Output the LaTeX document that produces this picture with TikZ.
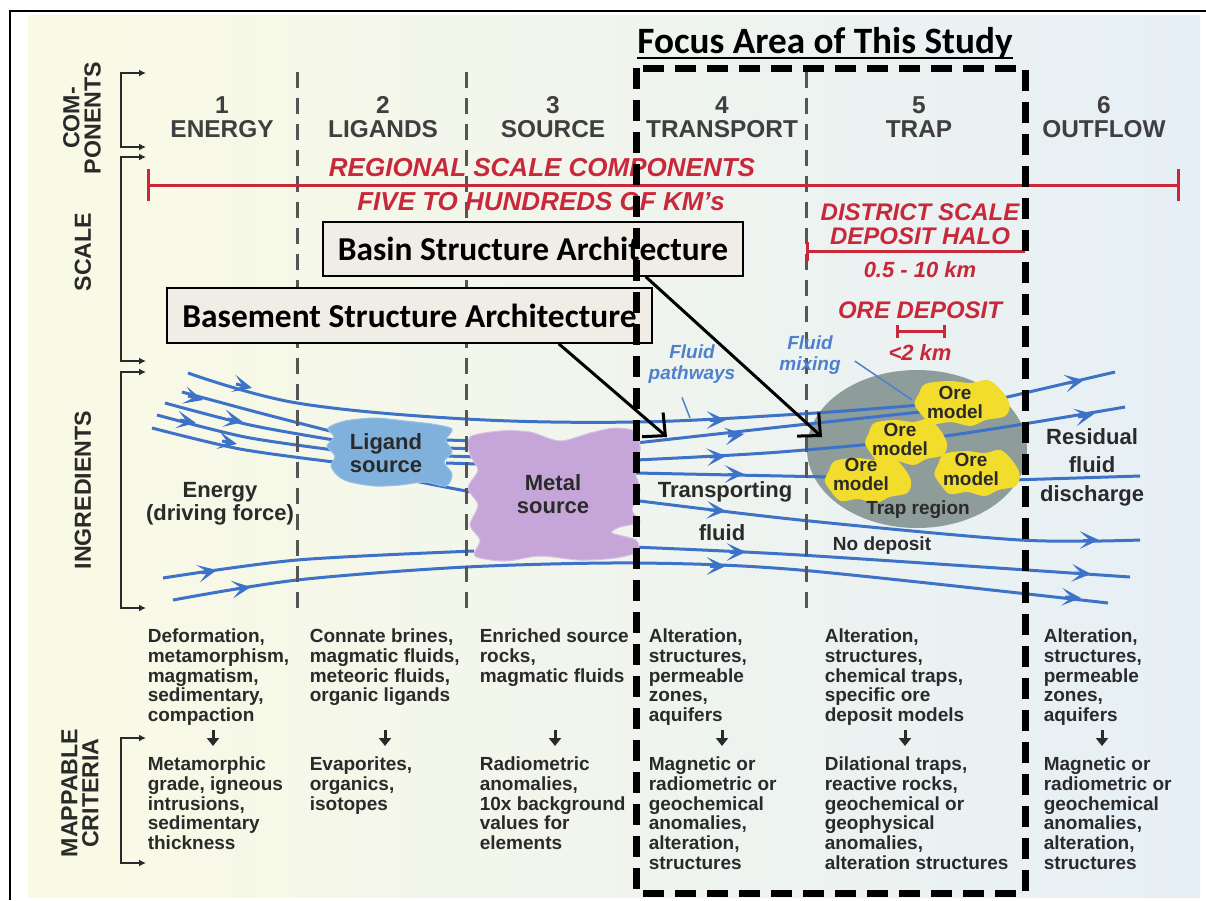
\documentclass[tikz,border=0pt]{standalone}
\usepackage{fontspec}
\setmainfont{Liberation Sans}
\newfontfamily\calibrifont{Carlito}
\usetikzlibrary{arrows.meta,positioning}

\definecolor{bgleft}{HTML}{FAFAE4}
\definecolor{bgright}{HTML}{E6EFF6}
\definecolor{txtgray}{HTML}{2A2A2A}
\definecolor{scalered}{HTML}{C8283A}
\definecolor{flowblue}{HTML}{3D72C9}
\definecolor{lblblue}{HTML}{4F80CB}
\definecolor{ligandblue}{HTML}{80B1DD}
\definecolor{metalpurple}{HTML}{C6A5D9}
\definecolor{trapgray}{HTML}{8E9C9A}
\definecolor{oreyellow}{HTML}{F3DD2C}
\definecolor{boxfill}{HTML}{EFEDE6}
\definecolor{divgray}{HTML}{555555}

\begin{document}
\begin{tikzpicture}[x=0.25pt, y=-0.25pt,
  flow/.style={draw=flowblue, line width=0.75pt},
  flowhead/.style={flow, -{Stealth[length=4.8pt,width=4.4pt,inset=2.4pt]}},
  hdr/.style={font=\fontsize{6.1}{6}\selectfont\bfseries, text=txtgray!90, align=center},
  side/.style={rotate=90, font=\fontsize{5.8}{5.3}\selectfont\bfseries, text=txtgray, align=center},
  crit/.style={font=\fontsize{4.75}{4.95}\selectfont\bfseries, text=txtgray, align=left, anchor=north west, inner sep=0pt},
  redtxt/.style={font=\fontsize{6}{6}\selectfont\bfseries\itshape, text=scalered, align=center},
  redbar/.style={draw=scalered, line width=0.75pt},
  blobtxt/.style={font=\fontsize{5.5}{5.75}\selectfont\bfseries, text=txtgray, align=center},
  oretxt/.style={font=\fontsize{4.75}{4.75}\selectfont\bfseries, text=txtgray, align=center, inner sep=0pt},
  fluidlbl/.style={font=\fontsize{4.75}{5.25}\selectfont\bfseries\itshape, text=lblblue, align=center},
  leader/.style={draw=lblblue, line width=0.375pt},
  bracket/.style={line width=0.5pt, draw=txtgray, {Latex[length=1.75pt,width=1.75pt]}-{Latex[length=1.75pt,width=1.75pt]}},
  divider/.style={draw=divgray, line width=0.75pt, dash pattern=on 4pt off 2.5pt},
  downarrow/.style={line width=0.75pt, draw=txtgray, -{Triangle[length=2pt,width=3pt]}},
  archbox/.style={draw, line width=0.375pt, fill=boxfill, font=\calibrifont\fontsize{8.35}{8.8}\selectfont\bfseries, inner sep=0pt},
  archarrow/.style={line width=0.75pt, -{Straight Barb[length=4.2pt,width=8pt]}}]

\useasboundingbox (0,0) rectangle (1206,900);
\fill[white] (0,0) rectangle (1206,900);
\shade[left color=bgleft, right color=bgright] (28,15) rectangle (1200,897);
\draw[line width=0.5pt] (10,900) -- (10,11) -- (1206,11);

% trap region
\fill[trapgray] (917,449) ellipse [x radius=27.5pt, y radius=19.75pt];

% fluid pathways
\draw[flow] plot[smooth, tension=0.6] coordinates {(188,373) (297,403) (466,419) (636,422) (800,414) (920,405)};
\draw[flow] plot[smooth] coordinates {(182,392) (260,413) (334,432)};
\draw[flow] plot[smooth] coordinates {(165,403) (250,425) (334,440)};
\draw[flow] plot[smooth] coordinates {(157,415) (245,437) (334,450)};
\draw[flow] plot[smooth] coordinates {(152,428) (240,449) (334,462)};
\foreach \y in {440,448,456,463}
  \draw[flow] (446,\y) -- (478,\y+1);
\draw[flow] plot[smooth] coordinates {(400,478) (440,486) (482,494)};
\draw[flow] plot[smooth] coordinates {(163,578) (297,560) (474,551)};
\draw[flow] plot[smooth] coordinates {(173,600) (297,580) (466,567) (636,563) (800,570) (1108,603)};
\draw[flow] plot[smooth] coordinates {(636,443) (780,427) (920,412)};
\draw[flow] plot[smooth] coordinates {(636,460) (780,452) (945,436) (1125,407)};
\draw[flow] (636,473) -- (832,477);
\draw[flow] plot[smooth] coordinates {(632,500) (800,520) (1020,540) (1140,540)};
\draw[flow] plot[smooth] coordinates {(632,547) (800,555) (1130,577)};
\draw[flow] (1003,398) -- (1115,372);
\draw[flow] (1012,480) -- (1140,476);
\foreach \xa/\ya/\xb/\yb in {236/384/252/388, 710/420/726/420, 188/396/203/400, 228/419/243/422,
    180/420/196/423, 222/441/237/444, 202/573/217/570, 236/589/251/587, 710/566/726/566,
    1065/597/1081/598, 728/436/744/434, 710/457/726/456, 1078/417/1094/414, 728/474/744/474,
    710/510/726/511, 1083/540/1099/540, 730/552/746/552, 1075/573/1091/574, 1068/383/1084/380}
  \draw[flowhead] (\xa,\ya) -- (\xb,\yb);

% sources
\filldraw[fill=ligandblue, draw=ligandblue!80!white, line width=0.25pt] plot[smooth cycle, tension=0.5] coordinates {
  (328,428) (345,421) (375,418) (405,421) (432,424) (452,429) (446,440) (452,452) (444,462)
  (452,474) (446,486) (425,482) (400,485) (375,486) (350,482) (338,476) (331,466) (335,456)
  (327,446) (334,437)};
\filldraw[fill=metalpurple, draw=metalpurple!70!white, line width=0.25pt] plot[smooth cycle, tension=0.5] coordinates {
  (470,437) (500,431) (530,432) (560,441) (590,433) (615,428) (636,432) (640,450) (634,468)
  (640,490) (632,510) (640,522) (620,527) (612,533) (636,540) (637,552) (615,558) (580,560)
  (540,556) (505,561) (475,556) (480,540) (470,525) (478,505) (468,488) (478,470) (470,455)};
\foreach \cx/\cy/\s in {962/402/1.08, 906/441/0.93, 868/479/0.98, 977/472/0.97}
  \fill[oreyellow, shift={(\cx,\cy)}, xscale=\s] plot[smooth cycle, tension=0.55] coordinates {
    (-40,-8) (-34,-18) (-12,-21) (8,-19) (24,-22) (36,-12) (44,2) (40,14) (22,18) (8,24)
    (-10,20) (-28,22) (-38,12) (-44,2)};

% columns
\foreach \x in {297,466,806}
  \draw[divider] (\x,72) -- (\x,610);
\foreach \a/\b in {73/147,157/361,372/608,738/863}
  \draw[bracket] (146,\a) -- (121,\a) -- (121,\b) -- (146,\b);

\node[side] (lcomp) at (82,118) {COM-\\PONENTS};
\node[side] (lscale) at (83,252) {SCALE};
\node[side] (lingr) at (83,490) {INGREDIENTS};
\node[side] (lmap) at (80,793) {MAPPABLE\\CRITERIA};

\node[hdr] (h1) at (222,117) {1\\ENERGY};
\node[hdr] (h2) at (383,117) {2\\LIGANDS};
\node[hdr] (h3) at (553,117) {3\\SOURCE};
\node[hdr] (h4) at (722,117) {4\\TRANSPORT};
\node[hdr] (h5) at (919,117) {5\\TRAP};
\node[hdr] (h6) at (1104,117) {6\\OUTFLOW};

% scales
\draw[redbar, {Bar[width=8pt]}-{Bar[width=8pt]}] (147,185) -- (1180,185);
\node[redtxt, font=\fontsize{6.5}{6.5}\selectfont\bfseries\itshape] (regional) at (542,168) {REGIONAL SCALE COMPONENTS};
\node[redtxt, font=\fontsize{6.5}{6.5}\selectfont\bfseries\itshape] (fivekm) at (541,202) {FIVE TO HUNDREDS OF KM’s};
\node[redtxt] (district) at (920,224) {DISTRICT SCALE\\DEPOSIT HALO};
\draw[redbar, {Bar[width=4.75pt]}-] (806,251) -- (1025,251);
\node[redtxt, font=\fontsize{5.5}{5.5}\selectfont\bfseries\itshape] (halokm) at (920,270) {0.5 - 10 km};
\node[redtxt] (oredep) at (920,310) {ORE DEPOSIT};
\draw[redbar, {Bar[width=3.25pt]}-{Bar[width=3.25pt]}] (896,331) -- (946,331);
\node[redtxt, font=\fontsize{5.5}{5.5}\selectfont\bfseries\itshape] (orekm) at (920,353) {<2 km};

% labels in the flow
\node[blobtxt] (ligand) at (386,453) {Ligand\\source};
\node[blobtxt] (metal) at (553,494) {Metal\\source};
\node[blobtxt] (energy) at (220,504) {Energy\\(driving force)};
\node[blobtxt] (transp) at (725,492) {Transporting};
\node[blobtxt] (tfluid) at (722,533) {fluid};
\node[blobtxt, font=\fontsize{5.5}{7.1}\selectfont\bfseries] (residual) at (1092,467) {Residual\\fluid\\discharge};
\node[oretxt] (ore1) at (955,402) {Ore\\model};
\node[oretxt] (ore2) at (900,439) {Ore\\model};
\node[oretxt] (ore3) at (861,474) {Ore\\model};
\node[oretxt] (ore4) at (971,469) {Ore\\model};
\node[oretxt] (trapreg) at (918,510) {Trap region};
\node[oretxt] (nodep) at (882,546) {No deposit};

\node[fluidlbl] (fpath) at (692,364) {Fluid\\pathways};
\coordinate (fpathend) at (690,418);
\draw[leader] ([xshift=-2.5pt]fpath.south) -- (fpathend);
\node[fluidlbl] (fmix) at (810,355) {Fluid\\mixing};
\coordinate (fmixend) at (912,400);
\draw[leader] ([yshift=-1.5pt]fmix.east) -- (fmixend);

% mappable criteria
\node[crit] (c1top) at (147,628) {Deformation,\\metamorphism,\\magmatism,\\sedimentary,\\compaction};
\node[crit] (c1bot) at (147,756) {Metamorphic\\grade, igneous\\intrusions,\\sedimentary\\thickness};
\node[crit] (c2top) at (309,628) {Connate brines,\\magmatic fluids,\\meteoric fluids,\\organic ligands};
\node[crit] (c2bot) at (309,756) {Evaporites,\\organics,\\isotopes};
\node[crit] (c3top) at (479,628) {Enriched source\\rocks,\\magmatic fluids};
\node[crit] (c3bot) at (479,756) {Radiometric\\anomalies,\\10x background\\values for\\elements};
\node[crit] (c4top) at (648,628) {Alteration,\\structures,\\permeable\\zones,\\aquifers};
\node[crit] (c4bot) at (648,756) {Magnetic or\\radiometric or\\geochemical\\anomalies,\\alteration,\\structures};
\node[crit] (c5top) at (824,628) {Alteration,\\structures,\\chemical traps,\\specific ore\\deposit models};
\node[crit] (c5bot) at (824,756) {Dilational traps,\\reactive rocks,\\geochemical or\\geophysical\\anomalies,\\alteration structures};
\node[crit] (c6top) at (1043,628) {Alteration,\\structures,\\permeable\\zones,\\aquifers};
\node[crit] (c6bot) at (1043,756) {Magnetic or\\radiometric or\\geochemical\\anomalies,\\alteration,\\structures};
\foreach \x/\n in {213/1,385/2,555/3,722/4,905/5,1102/6} {
  \coordinate (dn\n) at (\x,730);
  \draw[downarrow] (dn\n) -- ++(0,16);
}

% architecture boxes
\node[archbox, minimum width=105pt, minimum height=13.5pt] (basinbox) at (533,249) {Basin Structure Architecture};
\node[archbox, minimum width=121.25pt, minimum height=13.75pt] (basementbox) at (409.5,315.5) {Basement Structure Architecture};
\coordinate (basintip) at (822,437);
\coordinate (basementtip) at (667,437);
\draw[archarrow] ([xshift=-24.5pt]basinbox.south east) -- (basintip);
\draw[archarrow] ([xshift=-23.5pt]basementbox.south east) -- (basementtip);

% focus area
\draw[line width=1.75pt, dash pattern=on 5.25pt off 2.75pt] (636,68) rectangle (1025,893);
\node[font=\calibrifont\fontsize{9.3}{9.6}\selectfont\bfseries, anchor=base, inner sep=0pt] (title) at (825,53) {Focus Area of This Study};
\draw[line width=0.5pt] ([yshift=-1.25pt]title.base west) -- ([yshift=-1.25pt]title.base east);
\end{tikzpicture}
\end{document}
